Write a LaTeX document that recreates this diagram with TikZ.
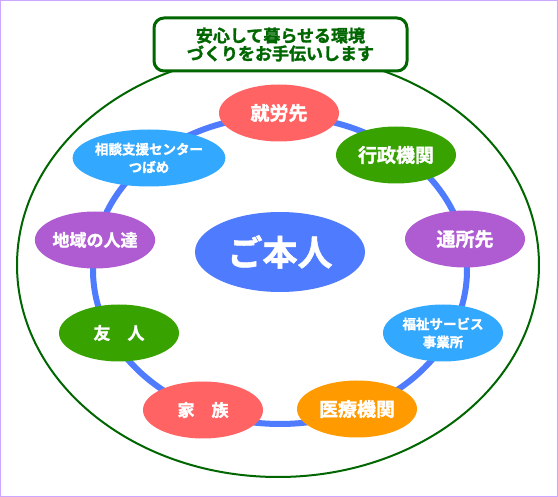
\documentclass[tikz,border=0pt]{standalone}
\usepackage{fontspec}
\usetikzlibrary{shapes.geometric}
\newfontfamily\jp{Noto Sans CJK JP}[BoldFont={Noto Sans CJK JP Bold},BoldFeatures={FakeBold=1.5}]
\definecolor{dgreen}{HTML}{006600}
\definecolor{ringblue}{HTML}{4F7BFF}
\definecolor{sred}{HTML}{FF6363}
\definecolor{sgreen}{HTML}{38A300}
\definecolor{spurple}{HTML}{AF5CD3}
\definecolor{sblue}{HTML}{33A8FF}
\definecolor{sorange}{HTML}{FF9A00}
\definecolor{lilac}{HTML}{CCA6FF}

\begin{document}
\begin{tikzpicture}[x=1pt,y=-1pt,
    spot/.style={ellipse,minimum width=120pt,minimum height=57pt,inner sep=0pt,
        text=white,align=center,font=\jp\bfseries\fontsize{19}{21}\selectfont},
    small/.style={font=\jp\bfseries\fontsize{17}{19}\selectfont},
    tiny/.style={font=\jp\bfseries\fontsize{13.5}{18}\selectfont}]
    \useasboundingbox (0,0) rectangle (558,497);
    \draw[lilac] (0.5,0.5) rectangle (557.5,496.5);

    \draw[dgreen,line width=2pt] (278,265) ellipse [x radius=261,y radius=212];
    \draw[ringblue,line width=6pt] (280,270) ellipse [x radius=187,y radius=154];

    \node[draw=dgreen,line width=3pt,fill=white,rounded corners=10pt,
        minimum width=253pt,minimum height=53pt,inner sep=0pt,align=center,
        text=dgreen,font=\jp\bfseries\fontsize{17}{18}\selectfont] (title) at (280.5,44.5)
        {安心して暮らせる環境\\づくりをお手伝いします};

    \node[spot,fill=ringblue,minimum width=170pt,minimum height=80pt,
        font=\jp\bfseries\fontsize{35}{37}\selectfont] (me) at (280,252) {ご本人};

    \node[spot,fill=sred] (work) at (279,113) {就労先};
    \node[spot,fill=sgreen] (gov) at (396,155) {行政機関};
    \node[spot,fill=spurple] (day) at (465,239) {通所先};
    \node[spot,fill=sblue,tiny] (welfare) at (443,333) {福祉サービス\\事業所};
    \node[spot,fill=sorange] (med) at (357,409) {医療機関};
    \node[spot,fill=sred,small] (family) at (203,410) {家　族};
    \node[spot,fill=sgreen,small] (friend) at (119,333) {友　人};
    \node[spot,fill=spurple,small] (local) at (95,240) {地域の人達};
    \node[spot,fill=sblue,tiny] (center) at (149,158) {相談支援センター\\つばめ};
\end{tikzpicture}
\end{document}
